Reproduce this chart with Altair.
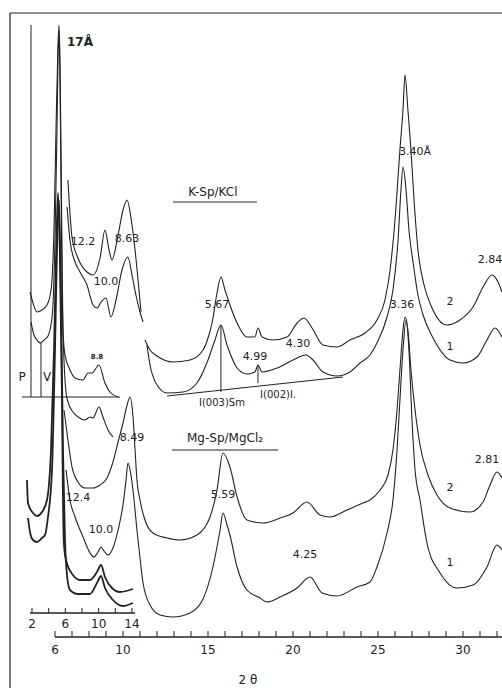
import altair as alt
import pandas as pd

# ---------------- data (2θ in degrees, intensity in arbitrary units) ----------------
# K-Sp/KCl, main 2θ scale
K2_LOW_T = [6.76, 7.00, 7.35, 7.88, 8.24, 8.65, 8.94, 9.18, 9.35, 9.71, 10.00, 10.24, 10.47, 10.71, 10.94, 11.06]
K2_LOW_I = [508, 451, 430, 416, 413, 430, 458, 438, 428, 453, 478, 488, 470, 438, 398, 376]
K1_LOW_T = [6.71, 6.88, 7.18, 7.47, 7.88, 8.24, 8.47, 8.71, 9.00, 9.29, 9.59, 9.94, 10.29, 10.53, 10.76, 11.00, 11.18]
K1_LOW_I = [481, 448, 426, 416, 403, 383, 380, 386, 390, 371, 388, 418, 431, 413, 393, 376, 366]
K2_T = [11.29, 11.59, 12.00, 12.94, 13.94, 14.71, 15.00, 15.24, 15.53, 15.76, 16.00, 16.29, 16.71, 17.29, 17.76,
        17.94, 18.18, 18.82, 19.65, 20.24, 20.65, 21.12, 21.76, 22.59, 23.35, 24.24, 24.94, 25.41, 25.71, 26.00,
        26.29, 26.47, 26.59, 26.76, 26.94, 27.12, 27.35, 27.71, 28.18, 29.06, 29.82, 30.59, 31.18, 31.71, 32.06, 32.29]
K2_I = [348, 338, 332, 326, 328, 338, 350, 365, 395, 411, 398, 383, 365, 351, 351,
        360, 351, 348, 351, 365, 370, 360, 343, 341, 348, 355, 368, 388, 418, 468,
        538, 578, 613, 578, 538, 488, 438, 403, 380, 363, 368, 381, 401, 413, 406, 396]
K1_T = [11.41, 11.59, 12.00, 12.59, 13.53, 14.35, 15.00, 15.41, 15.76, 16.12, 16.71, 17.29, 17.76, 17.94, 18.18,
        19.06, 20.00, 20.76, 21.18, 21.76, 22.59, 23.35, 23.94, 24.53, 24.94, 25.53, 25.88, 26.18, 26.35, 26.47,
        26.65, 26.82, 27.06, 27.35, 27.65, 28.24, 29.24, 30.00, 30.82, 31.41, 31.88, 32.29]
K1_I = [343, 323, 303, 295, 296, 305, 328, 348, 363, 343, 320, 314, 316, 323, 316,
        320, 328, 333, 328, 316, 312, 316, 325, 333, 345, 371, 398, 448, 498, 521,
        498, 458, 426, 393, 373, 350, 328, 325, 331, 348, 360, 351]
# Mg-Sp/MgCl2, main 2θ scale
MG2_T = [6.53, 6.76, 7.00, 7.35, 7.76, 8.24, 8.65, 9.06, 9.41, 9.71, 10.00, 10.24, 10.41, 10.59, 10.71,
         10.82, 11.00, 11.29, 11.76, 12.59, 13.35, 14.35, 15.12, 15.53, 15.88, 16.29, 16.71, 17.29, 18.24, 19.24,
         20.00, 20.82, 21.59, 22.18, 23.18, 24.12, 24.53, 25.12, 25.59, 25.88, 26.12, 26.29, 26.47, 26.59, 26.76,
         26.94, 27.18, 27.47, 27.94, 28.47, 29.24, 30.41, 31.18, 31.59, 32.00, 32.29]
MG2_I = [278, 248, 221, 206, 200, 200, 203, 210, 226, 246, 265, 283, 291, 271, 238,
         208, 188, 168, 155, 150, 148, 153, 171, 198, 235, 221, 191, 168, 165, 170,
         175, 186, 173, 171, 178, 185, 188, 198, 213, 238, 278, 318, 358, 371, 358,
         318, 278, 243, 213, 193, 180, 176, 186, 203, 216, 210]
MG1_T = [6.65, 6.88, 7.18, 7.65, 8.06, 8.29, 8.53, 8.71, 8.88, 9.12, 9.41, 9.71, 10.00, 10.18, 10.29,
         10.47, 10.65, 10.82, 11.00, 11.18, 11.59, 12.18, 12.94, 13.94, 14.71, 15.29, 15.71, 15.88, 16.12, 16.29,
         16.71, 17.29, 18.06, 18.47, 19.24, 20.24, 21.00, 21.71, 22.59, 23.76, 24.53, 24.94, 25.53, 25.88, 26.12,
         26.29, 26.47, 26.65, 26.82, 27.00, 27.18, 27.47, 27.88, 28.65, 29.65, 30.59, 31.41, 32.00, 32.29]
MG1_I = [218, 188, 171, 151, 135, 131, 136, 141, 137, 133, 140, 158, 183, 208, 225,
         213, 188, 158, 130, 105, 83, 73, 71, 75, 89, 121, 158, 175, 163, 153,
         121, 98, 90, 86, 91, 100, 111, 95, 92, 101, 106, 121, 155, 188, 238,
         288, 338, 368, 338, 268, 218, 188, 145, 115, 100, 103, 121, 143, 138]
# low-angle inset patterns (inset 2θ scale)
UA_T = [1.76, 2.12, 2.60, 3.20, 3.80, 4.16, 4.40, 4.64, 4.88, 5.12, 5.24, 5.36, 5.48, 5.60, 5.72,
        5.96, 6.56, 7.16, 8.12, 8.72, 9.20, 10.04, 10.76, 11.36, 12.32]
UA_I = [396, 385, 376, 378, 383, 392, 408, 458, 558, 643, 663, 628, 538, 438, 358,
        333, 318, 310, 308, 315, 315, 323, 305, 296, 291]
UB_T = [1.88, 2.24, 2.60, 2.96, 3.44, 3.92, 4.28, 4.52, 4.76, 5.00, 5.12, 5.24, 5.36, 5.48, 5.60,
        5.84, 6.08, 6.32, 6.92, 7.52, 8.36, 8.96, 9.32, 10.04, 10.52, 11.12, 11.72]
UB_I = [366, 353, 348, 345, 348, 352, 363, 383, 448, 558, 628, 653, 608, 508, 408,
        328, 296, 286, 276, 271, 268, 271, 270, 281, 271, 258, 251]
MA_T = [1.40, 1.52, 2.12, 2.60, 3.20, 3.80, 4.28, 4.64, 4.88, 5.12, 5.36, 5.60, 5.72, 5.84, 6.08,
        6.92, 7.76, 8.96, 9.80, 10.28, 10.76, 11.60, 12.56, 14.12]
MA_I = [208, 185, 175, 172, 176, 188, 238, 338, 428, 495, 428, 288, 188, 143, 128,
        113, 108, 108, 116, 123, 111, 100, 96, 99]
MB_T = [1.52, 1.76, 2.12, 2.60, 3.20, 3.56, 3.92, 4.40, 4.76, 5.00, 5.24, 5.48, 5.72, 5.96, 6.20,
        6.56, 7.52, 8.96, 9.80, 10.28, 10.76, 11.72, 12.92, 14.12]
MB_I = [170, 156, 148, 146, 150, 153, 171, 218, 338, 438, 488, 388, 238, 148, 113,
        98, 94, 94, 105, 112, 100, 88, 82, 85]

# annotations (main scale)
MAIN_LABELS = ["12.2", "8.63", "10.0", "5.67", "4.99", "4.30", "3.40Å", "2.84", "2", "1",
               "3.36", "8.49", "5.59", "12.4", "10.0", "4.25", "2.81", "2", "1"]
MAIN_LABEL_T = [7.65, 10.24, 9.00, 15.53, 17.76, 20.29, 27.18, 31.59, 29.24, 29.24,
                26.41, 10.53, 15.88, 7.35, 8.71, 20.71, 31.41, 29.24, 29.24]
MAIN_LABEL_I = [446, 449, 406, 383, 331, 344, 536, 428, 386, 341,
                383, 250, 193, 190, 158, 133, 228, 200, 125]
TITLES = ["K-Sp/KCl", "Mg-Sp/MgCl₂"]
TITLE_T = [15.29, 16.0]
TITLE_I = [496, 250]
REFL = ["I(003)Sm", "I(002)I."]
REFL_T = [15.82, 19.12]
REFL_I = [285, 293]
# straight construction lines on main scale: (t, t2, I, I2)
MAIN_RULES_T = [15.76, 17.94, 12.59, 12.94, 12.88]
MAIN_RULES_T2 = [15.76, 17.94, 22.94, 17.88, 19.12]
MAIN_RULES_I = [296, 305, 292, 486, 238]
MAIN_RULES_I2 = [363, 323, 311, 486, 238]
# inset annotations
INSET_LABELS = ["P", "V"]
INSET_LABEL_T = [0.80, 3.80]
INSET_LABEL_I = [311, 311]
INSET_RULES_T = [1.88, 3.08, 0.80]
INSET_RULES_T2 = [1.88, 3.08, 12.56]
INSET_RULES_I = [291, 291, 291]
INSET_RULES_I2 = [663, 345, 291]
# axes
MAIN_TICKS = [6, 7, 8, 9, 10, 11, 12, 13, 14, 15, 16, 17, 18, 19, 20, 21, 22, 23, 24, 25, 26, 27, 28, 29, 30, 31, 32]
MAIN_TICK_LABELS = [6, 10, 15, 20, 25, 30]
INSET_TICKS = [2, 4, 6, 8, 10, 12, 14]
INSET_TICK_LABELS = [2, 6, 10, 14]

# ---------------- layout ----------------
W, H = 492, 675
MAIN_DOM = [3.353, 32.294]
INSET_DOM = [-0.641, 58.42]
Y_DOM = [0, 675]
INK = "#222222"
FONT = "DejaVu Sans"


def curves(items):
    rows = []
    for name, ts, vs in items:
        for k, (t, v) in enumerate(zip(ts, vs)):
            rows.append({"curve": name, "o": k, "t": t, "I": v})
    return pd.DataFrame(rows)


def labels(txt, ts, vs):
    return pd.DataFrame({"txt": txt, "t": ts, "I": vs})


def rules(t, t2, i, i2):
    return pd.DataFrame({"t": t, "t2": t2, "I": i, "I2": i2})


ysc = alt.Scale(domain=Y_DOM, nice=False, zero=False)
Y = alt.Y("I:Q", scale=ysc, axis=None)


def xenc(dom):
    return alt.X("t:Q", scale=alt.Scale(domain=dom, nice=False, zero=False), axis=None)


XM = xenc(MAIN_DOM)
XI = xenc(INSET_DOM)

main_df = curves([("K2low", K2_LOW_T, K2_LOW_I), ("K1low", K1_LOW_T, K1_LOW_I),
                  ("K2", K2_T, K2_I), ("K1", K1_T, K1_I), ("Mg2", MG2_T, MG2_I), ("Mg1", MG1_T, MG1_I)])
main_lines = alt.Chart(main_df).mark_line(color=INK, strokeWidth=1.1, interpolate="monotone").encode(
    x=XM, y=Y, detail="curve:N", order="o:Q")

main_text = alt.Chart(labels(MAIN_LABELS, MAIN_LABEL_T, MAIN_LABEL_I)).mark_text(
    font=FONT, fontSize=11, color=INK, align="center", baseline="middle").encode(x=XM, y=Y, text="txt:N")
title_text = alt.Chart(labels(TITLES, TITLE_T, TITLE_I)).mark_text(
    font=FONT, fontSize=12, color=INK, align="center", baseline="middle").encode(x=XM, y=Y, text="txt:N")
refl_text = alt.Chart(labels(REFL, REFL_T, REFL_I)).mark_text(
    font=FONT, fontSize=10, color=INK, align="center", baseline="middle").encode(x=XM, y=Y, text="txt:N")
main_rules = alt.Chart(rules(MAIN_RULES_T, MAIN_RULES_T2, MAIN_RULES_I, MAIN_RULES_I2)).mark_rule(
    color=INK, strokeWidth=1).encode(x=XM, x2="t2:Q", y=Y, y2="I2:Q")

# main 2θ axis
main_axis_line = alt.Chart(pd.DataFrame({"t": [MAIN_TICKS[0]], "t2": [MAIN_DOM[1]]})).mark_rule(
    color=INK, strokeWidth=1.3).encode(x=XM, x2="t2:Q", y=alt.Y(datum=51, scale=ysc, axis=None))
main_ticks = alt.Chart(pd.DataFrame({"t": MAIN_TICKS})).mark_rule(color=INK, strokeWidth=1).encode(
    x=XM, y=alt.Y(datum=51, scale=ysc, axis=None), y2=alt.datum(57))
main_tick_lab = alt.Chart(pd.DataFrame({"t": MAIN_TICK_LABELS})).mark_text(
    font=FONT, fontSize=12, color=INK, baseline="middle").encode(
    x=XM, y=alt.Y(datum=38, scale=ysc, axis=None), text="t:Q")
axis_title = alt.Chart(pd.DataFrame({"t": [17.35], "txt": ["2 θ"]})).mark_text(
    font=FONT, fontSize=12, color=INK, baseline="middle").encode(
    x=XM, y=alt.Y(datum=8, scale=ysc, axis=None), text="txt:N")

frame_left = alt.Chart(pd.DataFrame({"a": [0]})).mark_rule(color=INK, strokeWidth=1.2).encode(
    x=alt.value(0), y=alt.value(0), y2=alt.value(H))
frame_top = alt.Chart(pd.DataFrame({"a": [0]})).mark_rule(color=INK, strokeWidth=1.2).encode(
    x=alt.value(0), x2=alt.value(W), y=alt.value(0))

main_group = alt.layer(frame_left, frame_top, main_lines, main_rules, main_text, title_text, refl_text,
                       main_axis_line, main_ticks, main_tick_lab, axis_title)

# inset group
thin_df = curves([("Ua", UA_T, UA_I), ("Ub", UB_T, UB_I)])
thick_df = curves([("Ma", MA_T, MA_I), ("Mb", MB_T, MB_I)])
inset_thin = alt.Chart(thin_df).mark_line(color=INK, strokeWidth=1.1, interpolate="monotone").encode(
    x=XI, y=Y, detail="curve:N", order="o:Q")
inset_thick = alt.Chart(thick_df).mark_line(color=INK, strokeWidth=1.8, interpolate="monotone").encode(
    x=XI, y=Y, detail="curve:N", order="o:Q")
inset_rules = alt.Chart(rules(INSET_RULES_T, INSET_RULES_T2, INSET_RULES_I, INSET_RULES_I2)).mark_rule(
    color=INK, strokeWidth=1).encode(x=XI, x2="t2:Q", y=Y, y2="I2:Q")
inset_text = alt.Chart(labels(INSET_LABELS, INSET_LABEL_T, INSET_LABEL_I)).mark_text(
    font=FONT, fontSize=12, color=INK, baseline="middle").encode(x=XI, y=Y, text="txt:N")
peak17 = alt.Chart(labels(["17Å"], [7.76], [646])).mark_text(
    font=FONT, fontSize=12, fontWeight="bold", color=INK, baseline="middle").encode(x=XI, y=Y, text="txt:N")
peak88 = alt.Chart(labels(["8.8"], [9.80], [331])).mark_text(
    font=FONT, fontSize=7, fontWeight="bold", color=INK, baseline="middle").encode(x=XI, y=Y, text="txt:N")
inset_axis_line = alt.Chart(pd.DataFrame({"t": [1.76], "t2": [14.36]})).mark_rule(
    color=INK, strokeWidth=1.3).encode(x=XI, x2="t2:Q", y=alt.Y(datum=75, scale=ysc, axis=None))
inset_ticks = alt.Chart(pd.DataFrame({"t": INSET_TICKS})).mark_rule(color=INK, strokeWidth=1).encode(
    x=XI, y=alt.Y(datum=75, scale=ysc, axis=None), y2=alt.datum(80))
inset_tick_lab = alt.Chart(pd.DataFrame({"t": INSET_TICK_LABELS})).mark_text(
    font=FONT, fontSize=12, color=INK, baseline="middle").encode(
    x=XI, y=alt.Y(datum=64, scale=ysc, axis=None), text="t:Q")

inset_group = alt.layer(inset_thin, inset_thick, inset_rules, inset_text, peak17, peak88,
                        inset_axis_line, inset_ticks, inset_tick_lab)

chart = alt.layer(main_group, inset_group).resolve_scale(x="independent").properties(
    width=W, height=H, background="white",
    padding={"left": 10, "top": 13, "right": 0, "bottom": 0},
    autosize=alt.AutoSizeParams(type="none"),
).configure_view(stroke=None)

chart.save("out.html", embed_options={"renderer": "svg", "actions": False})
